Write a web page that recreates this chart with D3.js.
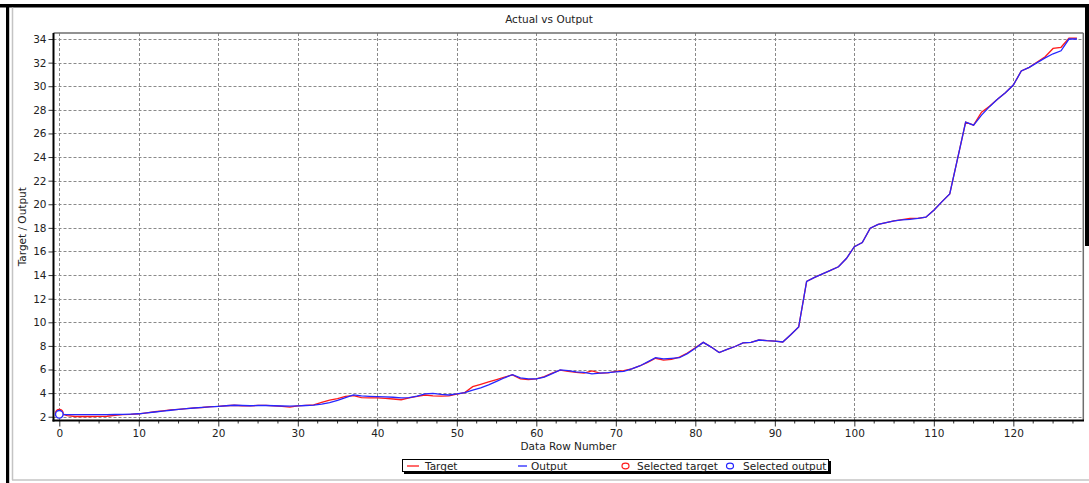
<!DOCTYPE html>
<html>
<head>
<meta charset="utf-8">
<script src="https://cdn.jsdelivr.net/npm/d3@7"></script>
<style>
  html, body { margin: 0; padding: 0; background: #fff; }
  svg { display: block; }
  text { font-family: "DejaVu Sans", Verdana, sans-serif; fill: #222; }
</style>
</head>
<body>
<svg id="chart" width="1089" height="483"></svg>
<script>
// ---- data ----
const rowNumbers = d3.range(0, 129);
const targetValues = [
  2.30, 2.10, 2.02, 2.02, 2.02, 2.03, 2.04, 2.12, 2.18, 2.20,
  2.25, 2.33, 2.42, 2.50, 2.58, 2.63, 2.68, 2.75, 2.78, 2.86,
  2.88, 2.93, 2.97, 2.93, 2.92, 2.96, 2.96, 2.92, 2.88, 2.82,
  2.92, 2.96, 3.00, 3.22, 3.40, 3.53, 3.72, 3.78, 3.62, 3.60,
  3.59, 3.55, 3.50, 3.44, 3.60, 3.72, 3.84, 3.76, 3.74, 3.76,
  3.92, 4.05, 4.55, 4.75, 4.95, 5.15, 5.35, 5.55, 5.20, 5.15,
  5.20, 5.40, 5.70, 5.95, 5.85, 5.75, 5.70, 5.88, 5.70, 5.72,
  5.85, 5.90, 6.05, 6.30, 6.60, 6.95, 6.80, 6.85, 7.05, 7.40,
  7.85, 8.30, 7.90, 7.44, 7.70, 7.95, 8.25, 8.30, 8.50, 8.44,
  8.40, 8.33, 8.95, 9.60, 13.47, 13.80, 14.10, 14.40, 14.70, 15.40,
  16.40, 16.75, 17.97, 18.30, 18.45, 18.60, 18.70, 18.80, 18.80, 18.90,
  19.50, 20.20, 20.87, 23.90, 26.95, 26.70, 27.80, 28.30, 28.90, 29.45,
  30.10, 31.30, 31.60, 32.05, 32.50, 33.20, 33.30, 34.07, 34.07
];
const outputValues = [
  2.20, 2.18, 2.17, 2.17, 2.17, 2.17, 2.18, 2.19, 2.20, 2.22,
  2.25, 2.32, 2.40, 2.48, 2.55, 2.62, 2.68, 2.74, 2.79, 2.84,
  2.88, 2.93, 2.97, 2.95, 2.93, 2.95, 2.95, 2.93, 2.91, 2.90,
  2.92, 2.95, 2.98, 3.06, 3.20, 3.38, 3.62, 3.85, 3.76, 3.73,
  3.70, 3.68, 3.65, 3.60, 3.62, 3.75, 3.93, 3.98, 3.90, 3.84,
  3.93, 4.04, 4.25, 4.45, 4.70, 5.00, 5.30, 5.57, 5.30, 5.20,
  5.20, 5.35, 5.65, 5.97, 5.90, 5.80, 5.75, 5.63, 5.70, 5.74,
  5.80, 5.85, 6.05, 6.30, 6.65, 7.00, 6.90, 6.95, 7.00, 7.35,
  7.80, 8.30, 7.90, 7.44, 7.70, 7.95, 8.25, 8.30, 8.50, 8.44,
  8.40, 8.33, 8.95, 9.60, 13.47, 13.80, 14.10, 14.40, 14.70, 15.40,
  16.40, 16.75, 17.97, 18.30, 18.45, 18.60, 18.68, 18.72, 18.80, 18.90,
  19.50, 20.20, 20.87, 23.90, 26.95, 26.70, 27.55, 28.27, 28.90, 29.45,
  30.10, 31.30, 31.60, 32.00, 32.40, 32.75, 33.00, 34.00, 34.00
];
const selectedRow = [0];
const xTickValues = [0, 10, 20, 30, 40, 50, 60, 70, 80, 90, 100, 110, 120];
const yTickValues = [2, 4, 6, 8, 10, 12, 14, 16, 18, 20, 22, 24, 26, 28, 30, 32, 34];
const legendLabels = ["Target", "Output", "Selected target", "Selected output"];

const svg = d3.select("#chart");

// ---- outer frame ----
svg.append("rect").attr("x", 0).attr("y", 4).attr("width", 1089).attr("height", 3.5).attr("fill", "#000");
svg.append("rect").attr("x", 6).attr("y", 4).attr("width", 3.2).attr("height", 479).attr("fill", "#000");
svg.append("rect").attr("x", 1085).attr("y", 4).attr("width", 4).attr("height", 242).attr("fill", "#000");
svg.append("line").attr("x1", 12.5).attr("x2", 12.5).attr("y1", 7.5).attr("y2", 480).attr("stroke", "#c4c4c4").attr("stroke-width", 1.5);
svg.append("line").attr("x1", 12).attr("x2", 1089).attr("y1", 480).attr("y2", 480).attr("stroke", "#c4c4c4").attr("stroke-width", 1.5);

// ---- scales ----
const pL = 53.5, pR = 1083.3, pT = 33, pB = 420.5;
const x = d3.scaleLinear().domain([-0.73, 128.8]).range([pL, pR]);
const y = d3.scaleLinear().domain([1.68, 34.51]).range([pB, pT]);

// ---- grid ----
const grid = svg.append("g").attr("stroke", "#8a8a8a").attr("stroke-width", 1).attr("stroke-dasharray", "3,2");
grid.selectAll("line.h").data(yTickValues).join("line").attr("class", "h")
  .attr("x1", pL).attr("x2", pR)
  .attr("y1", d => Math.round(y(d)) + 0.5).attr("y2", d => Math.round(y(d)) + 0.5);
grid.selectAll("line.v").data(xTickValues).join("line").attr("class", "v")
  .attr("x1", d => Math.round(x(d)) + 0.5).attr("x2", d => Math.round(x(d)) + 0.5)
  .attr("y1", pT).attr("y2", pB);

// ---- plot border (top / right) ----
svg.append("line").attr("x1", pL).attr("x2", pR).attr("y1", 33).attr("y2", 33).attr("stroke", "#6e6e6e").attr("stroke-width", 1.5);
svg.append("line").attr("x1", pR).attr("x2", pR).attr("y1", 33).attr("y2", pB).attr("stroke", "#6e6e6e").attr("stroke-width", 1.5);

// ---- axes ----
const xAxis = d3.axisBottom(x).tickValues(xTickValues).tickSize(6).tickPadding(3).tickFormat(d3.format("d"));
const gx = svg.append("g").attr("transform", `translate(0,${pB})`).call(xAxis);
gx.select(".domain").remove();
gx.selectAll(".tick line").attr("stroke", "#333");
gx.selectAll(".tick text").attr("font-size", 10.5).attr("font-family", "DejaVu Sans").attr("fill", "#222");
const minorTicks = d3.range(0, 129, 2.5).filter(v => v % 10 !== 0);
svg.append("g").selectAll("line").data(minorTicks).join("line")
  .attr("x1", d => x(d)).attr("x2", d => x(d)).attr("y1", pB).attr("y2", pB + 3)
  .attr("stroke", "#333");

const yAxis = d3.axisLeft(y).tickValues(yTickValues).tickSize(5).tickPadding(2).tickFormat(d3.format("d"));
const gy = svg.append("g").attr("transform", `translate(${pL},0)`).call(yAxis);
gy.select(".domain").remove();
gy.selectAll(".tick line").attr("stroke", "#333");
gy.selectAll(".tick text").attr("font-size", 10.5).attr("font-family", "DejaVu Sans").attr("fill", "#222");

svg.append("line").attr("x1", pL).attr("x2", pL).attr("y1", pT).attr("y2", pB + 1).attr("stroke", "#000").attr("stroke-width", 2);
svg.append("line").attr("x1", pL - 1).attr("x2", pR + 0.7).attr("y1", pB).attr("y2", pB).attr("stroke", "#000").attr("stroke-width", 2);

// ---- series ----
const line = d3.line().x((d, i) => x(rowNumbers[i])).y(d => y(d));
svg.append("path").datum(targetValues).attr("d", line).attr("fill", "none").attr("stroke", "#ff1a1a").attr("stroke-width", 1.3);
svg.append("path").datum(outputValues).attr("d", line).attr("fill", "none").attr("stroke", "#2626ff").attr("stroke-width", 1.3);

// ---- selected markers ----
svg.selectAll("circle.selT").data(selectedRow).join("circle").attr("class", "selT")
  .attr("cx", d => x(d)).attr("cy", d => y(targetValues[d])).attr("r", 3.8)
  .attr("fill", "#fff").attr("stroke", "#ff1a1a").attr("stroke-width", 1.4);
svg.selectAll("circle.selO").data(selectedRow).join("circle").attr("class", "selO")
  .attr("cx", d => x(d)).attr("cy", d => y(outputValues[d])).attr("r", 3.8)
  .attr("fill", "#fff").attr("stroke", "#2626ff").attr("stroke-width", 1.4);

// ---- titles ----
svg.append("text").attr("x", 549).attr("y", 23).attr("text-anchor", "middle").attr("font-size", 10.5).text("Actual vs Output");
svg.append("text").attr("x", (pL + pR) / 2).attr("y", 450).attr("text-anchor", "middle").attr("font-size", 10.5).text("Data Row Number");
svg.append("text").attr("transform", `translate(26,${(pT + pB) / 2}) rotate(-90)`).attr("text-anchor", "middle").attr("font-size", 10.5).text("Target / Output");

// ---- legend ----
const lg = svg.append("g");
lg.append("rect").attr("x", 404).attr("y", 461).attr("width", 427).attr("height", 13).attr("fill", "#000");
lg.append("rect").attr("x", 402.5).attr("y", 459.5).attr("width", 426).attr("height", 12).attr("fill", "#fff").attr("stroke", "#000").attr("stroke-width", 1);
const legendItems = [
  { label: legendLabels[0], color: "#ff1a1a", kind: "line", mx: 407, mw: 12, tx: 425 },
  { label: legendLabels[1], color: "#2626ff", kind: "line", mx: 518, mw: 9, tx: 531 },
  { label: legendLabels[2], color: "#ff1a1a", kind: "circle", mx: 625.5, tx: 637 },
  { label: legendLabels[3], color: "#2626ff", kind: "circle", mx: 730, tx: 743 }
];
legendItems.forEach(it => {
  if (it.kind === "line") {
    lg.append("line").attr("x1", it.mx).attr("x2", it.mx + it.mw).attr("y1", 466).attr("y2", 466).attr("stroke", it.color).attr("stroke-width", 1.3);
  } else {
    lg.append("ellipse").attr("cx", it.mx).attr("cy", 466).attr("rx", 3.5).attr("ry", 2.8).attr("fill", "#fff").attr("stroke", it.color).attr("stroke-width", 1.2);
  }
  lg.append("text").attr("x", it.tx).attr("y", 469.5).attr("font-size", 10.5).text(it.label);
});
</script>
</body>
</html>
